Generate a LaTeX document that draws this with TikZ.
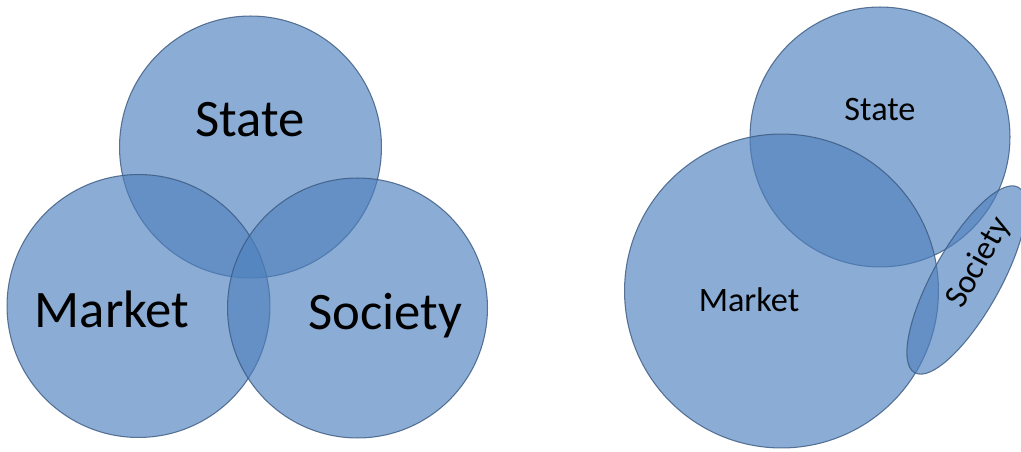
\documentclass[tikz,border=0pt]{standalone}
\usepackage{fontspec}
\setmainfont{Carlito}
\usetikzlibrary{shapes.geometric}

\definecolor{blobfill}{RGB}{79,129,189}
\definecolor{blobline}{RGB}{58,88,128}

\begin{document}
\begin{tikzpicture}[x=0.02cm,y=-0.02cm]
		\useasboundingbox (0,0) rectangle (1021,452);
		\begin{scope}
            [
                every node/.style={inner sep=0pt, outer sep=0pt},
				blob/.style = {circle, draw=blobline, line width=0.6pt, fill=blobfill, fill opacity=0.66, draw opacity=0.8},
				big/.style = {font=\fontsize{30}{32}\selectfont, anchor=base},
				small/.style = {font=\fontsize{19.5}{21}\selectfont, anchor=base}
            ]
            % left diagram: three equal circles
			\node(stateL)[blob, minimum size=5.24cm] at (250.5,147) {};
			\node(marketL)[blob, minimum size=5.26cm] at (138.5,306) {};
			\node(societyL)[blob, minimum size=5.2cm] at (357.5,308) {};

			\node(stateLtxt)[big] at (250,137) {State};
			\node(marketLtxt)[big] at (112,328) {Market};
			\node(societyLtxt)[big] at (385,330) {Society};

            % right diagram: large market, state, thin society
			\node(stateR)[blob, minimum size=5.2cm] at (880,137) {};
			\node(marketR)[blob, minimum size=6.28cm] at (781.5,291) {};
			\node(societyR)[blob, ellipse, minimum width=4.25cm, minimum height=1.35cm, rotate=60.8] at (966.5,280) {};

			\node(stateRtxt)[small] at (880,121) {State};
			\node(marketRtxt)[small] at (749,312) {Market};
			\node(societyRtxt)[font=\fontsize{19}{21}\selectfont, rotate=60.8] at (979,263) {Society};
		\end{scope}
    \end{tikzpicture}
\end{document}
